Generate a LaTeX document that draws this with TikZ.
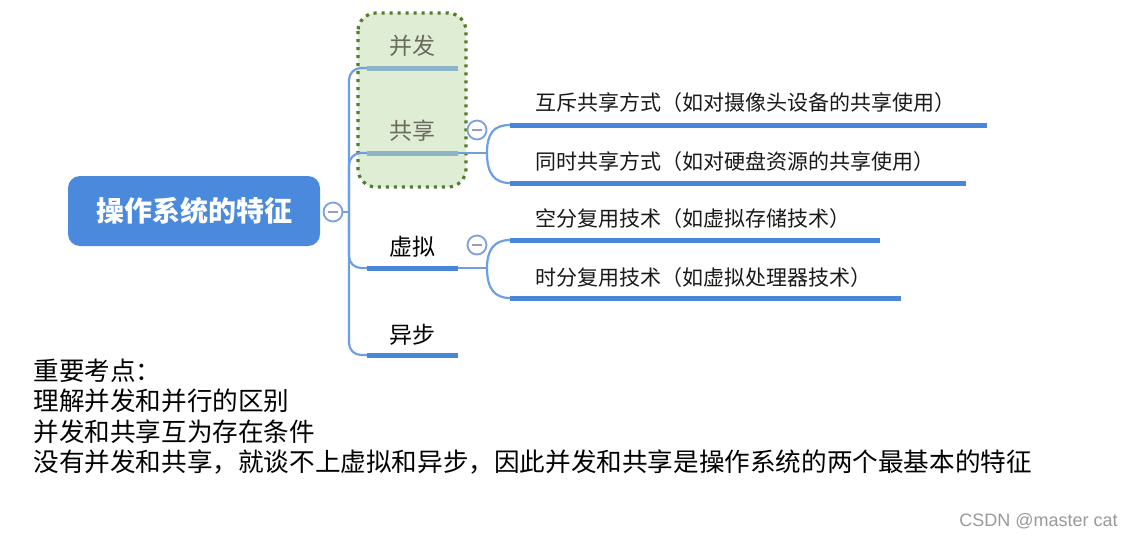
\documentclass[tikz,border=0pt]{standalone}
\usepackage{fontspec}
\setmainfont{Noto Sans CJK SC}
\newfontfamily\latinfont{Liberation Sans}

\definecolor{rootblue}{HTML}{4A89DC}
\definecolor{lineblue}{HTML}{4A86D8}
\definecolor{trunkblue}{HTML}{6F9FE3}
\definecolor{grpline}{HTML}{8DB3C7}
\definecolor{grpfill}{HTML}{DFEDD5}
\definecolor{grpborder}{HTML}{4E7E2C}
\definecolor{grptext}{HTML}{6B6B5E}
\definecolor{circblue}{HTML}{7B9FE0}
\definecolor{minuscol}{HTML}{9A9AC8}

\tikzset{
  rootbox/.style={rectangle, rounded corners=6pt, fill=rootblue, text=white,
    font=\fontsize{14}{16}\selectfont\bfseries, minimum width=126pt, minimum height=35pt},
  collapse/.style={circle, draw=circblue, fill=white, line width=0.9pt,
    minimum size=9.5pt, inner sep=0pt,
    path picture={\draw[minuscol, line width=1pt]
      ([xshift=-2.3pt]path picture bounding box.center) --
      ([xshift=2.3pt]path picture bounding box.center);}},
  branch/.style={font=\fontsize{11.5}{13}\selectfont, text=black, inner sep=0pt},
  leaf/.style={font=\fontsize{10.5}{12}\selectfont, text=black!90, inner sep=0pt, anchor=west},
  note/.style={font=\fontsize{12.8}{15}\selectfont, inner sep=0pt, anchor=west},
  trunk/.style={draw=trunkblue, line width=1.1pt, rounded corners=6pt},
  uline/.style={draw=lineblue, line width=2.5pt},
  grpuline/.style={draw=grpline, line width=2.5pt},
  groupbox/.style={draw=grpborder, fill=grpfill, rounded corners=9pt,
    line width=1.6pt, dash pattern=on 1.6pt off 2.4pt}
}

\begin{document}
\begin{tikzpicture}[x=0.5pt,y=-0.5pt]
  \useasboundingbox (0,0) rectangle (1133,538);

  % frame round the first two features
  \draw[groupbox] (358,13) rectangle (466,187);

  \node[rootbox] (root) at (194,211) {操作系统的特征};

  \begin{scope}[every node/.style={collapse}]
    \node (c0) at (333,212) {};
    \node (c2) at (477,130) {};
    \node (c3) at (477,245) {};
  \end{scope}

  % junctions and line ends
  \coordinate (j0) at (349,212);
  \coordinate (u1s) at (367,68);  \coordinate (u1e) at (458,68);
  \coordinate (u2s) at (367,153); \coordinate (u2e) at (458,153);
  \coordinate (u3s) at (367,268); \coordinate (u3e) at (458,268);
  \coordinate (u4s) at (367,355); \coordinate (u4e) at (458,355);
  \coordinate (j2) at (487,153);
  \coordinate (j3) at (487,268);
  \coordinate (l1s) at (510,125); \coordinate (l1e) at (987,125);
  \coordinate (l2s) at (510,183); \coordinate (l2e) at (966,183);
  \coordinate (l3s) at (510,240); \coordinate (l3e) at (880,240);
  \coordinate (l4s) at (510,298); \coordinate (l4e) at (901,298);

  \begin{scope}[every node/.style={branch}]
    \node[text=grptext] (bingfa) at (412,46)  {并发};
    \node[text=grptext] (gongxiang) at (412,131) {共享};
    \node (xuni)  at (412,247) {虚拟};
    \node (yibu)  at (412,335) {异步};
  \end{scope}

  \begin{scope}[every node/.style={leaf}]
    \node (huchi)  at (535,103) {互斥共享方式（如对摄像头设备的共享使用）};
    \node (tongshi) at (535,162) {同时共享方式（如对硬盘资源的共享使用）};
    \node (kongfen) at (535,219) {空分复用技术（如虚拟存储技术）};
    \node (shifen)  at (535,278) {时分复用技术（如虚拟处理器技术）};
  \end{scope}

  % trunk
  \draw[trunk] (c0.east) -- (j0);
  \draw[trunk] (j0) |- (u1s);
  \draw[trunk] (j0) |- (u2s);
  \draw[trunk] (j0) |- (u3s);
  \draw[trunk] (j0) |- (u4s);

  % underlines
  \draw[grpuline] (u1s) -- (u1e);
  \draw[grpuline] (u2s) -- (u2e);
  \draw[uline] (u3s) -- (u3e);
  \draw[uline] (u4s) -- (u4e);

  % sub-branches
  \draw[trunk] (u2e) -- (j2);
  \draw[trunk] (j2) .. controls (487,133) and (494,125) .. (l1s);
  \draw[trunk] (j2) .. controls (487,173) and (494,183) .. (l2s);
  \draw[trunk] (u3e) -- (j3);
  \draw[trunk] (j3) .. controls (487,250) and (494,240) .. (l3s);
  \draw[trunk] (j3) .. controls (487,288) and (494,298) .. (l4s);
  \draw[uline] (l1s) -- (l1e);
  \draw[uline] (l2s) -- (l2e);
  \draw[uline] (l3s) -- (l3e);
  \draw[uline] (l4s) -- (l4e);

  % notes
  \begin{scope}[every node/.style={note}]
    \node (n1) at (33,371) {重要考点：};
    \node (n2) at (33,401) {理解并发和并行的区别};
    \node (n3) at (33,432) {并发和共享互为存在条件};
    \node (n4) at (33,462) {没有并发和共享，就谈不上虚拟和异步，因此并发和共享是操作系统的两个最基本的特征};
  \end{scope}

  \node[anchor=east, inner sep=0pt, text=black!40, font=\latinfont\fontsize{9}{11}\selectfont]
    (mark) at (1118,521) {CSDN @master cat};

\end{tikzpicture}
\end{document}
